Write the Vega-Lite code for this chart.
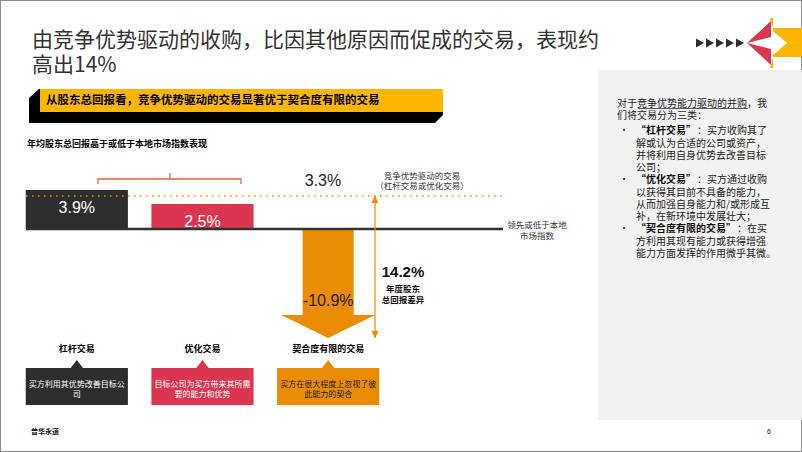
{
  "$schema": "https://vega.github.io/schema/vega-lite/v6.json",
  "width": 802,
  "height": 452,
  "autosize": {"type": "fit", "contains": "padding"},
  "padding": 0,
  "background": "#ffffff",
  "config": {
    "view": {"stroke": "#8c8c8c", "strokeWidth": 2},
    "axis": {"disable": true},
    "legend": {"disable": true}
  },
  "resolve": {"scale": {"x": "independent", "y": "independent", "color": "independent", "shape": "independent"}},
  "datasets": {
    "returns": [
      {"cat": "杠杆交易", "value": 3.9, "label": "3.9%", "desc": "买方利用其优势改善目标公\n司"},
      {"cat": "优化交易", "value": 2.5, "label": "2.5%", "desc": "目标公司为买方带来其所需\n要的能力和优势"},
      {"cat": "契合度有限的交易", "value": -10.9, "label": "-10.9%", "desc": "买方在很大程度上忽视了彼\n此能力的契合"}
    ],
    "benchmark": [
      {"name": "竞争优势驱动的交易\n（杠杆交易或优化交易）", "value": 3.3, "label": "3.3%"}
    ],
    "baseline": [
      {"name": "领先或低于本地\n市场指数", "value": 0}
    ],
    "gap": [
      {"top": 3.3, "bottom": -10.9, "label": "14.2%", "note": "年度股东\n总回报差异"}
    ],
    "gapEnds": [
      {"end": "top", "value": 3.3},
      {"end": "bottom", "value": -10.9}
    ]
  },
  "layer": [
    {
      "data": {"values": [
        {"part": "panel", "x": 598, "x2": 802, "y": 70, "y2": 420},
        {"part": "bannerShadow", "x": 29, "x2": 443, "y": 89, "y2": 123},
        {"part": "bannerFace", "x": 40, "x2": 443, "y": 89, "y2": 112},
        {"part": "logoBlock", "x": 773, "x2": 802, "y": 28, "y2": 57}
      ]},
      "mark": {"type": "rect"},
      "encoding": {
        "x": {"field": "x", "type": "quantitative", "scale": {"domain": [0, 802], "nice": false, "zero": false}},
        "x2": {"field": "x2"},
        "y": {"field": "y", "type": "quantitative", "scale": {"domain": [452, 0], "nice": false, "zero": false}},
        "y2": {"field": "y2"},
        "color": {"field": "part", "type": "nominal", "scale": {"domain": ["panel", "bannerShadow", "bannerFace", "logoBlock"], "range": ["#F2F2F2", "#000000", "#FFB600", "#FFB600"]}}
      }
    },
    {
      "data": {"values": [
        {"part": "chamferTL", "x": 29, "y": 89},
        {"part": "chamferBR", "x": 443, "y": 123},
        {"part": "chev", "x": 700, "y": 43},
        {"part": "chev", "x": 710, "y": 43},
        {"part": "chev", "x": 720, "y": 43},
        {"part": "chev", "x": 730, "y": 43},
        {"part": "chev", "x": 740, "y": 43},
        {"part": "pinkUp", "x": 747, "y": 43},
        {"part": "pinkDown", "x": 747, "y": 43},
        {"part": "notch", "x": 773, "y": 43},
        {"part": "yellowTips", "x": 771, "y": 43}
      ]},
      "mark": {"type": "point", "filled": true, "opacity": 1, "strokeWidth": 0, "size": 4},
      "encoding": {
        "x": {"field": "x", "type": "quantitative", "scale": {"domain": [0, 802], "nice": false, "zero": false}},
        "y": {"field": "y", "type": "quantitative", "scale": {"domain": [452, 0], "nice": false, "zero": false}},
        "shape": {"field": "part", "type": "nominal", "scale": {
          "domain": ["chamferTL", "chamferBR", "chev", "pinkUp", "pinkDown", "notch", "yellowTips"],
          "range": ["M-1,-1 L11,-1 L-1,10 Z", "M1,1 L1,-9 L-9,1 Z", "M-4,-4.5 L4,0 L-4,4.5 Z", "M0,0 L24,-22 L24,-6 Z", "M0,0 L24,22 L24,6 Z", "M0,-12 L14,0 L0,12 Z", "M-1,-25 L2,-25 L2,-15 Z M-1,25 L2,25 L2,15 Z"]}},
        "color": {"field": "part", "type": "nominal", "scale": {
          "domain": ["chamferTL", "chamferBR", "chev", "pinkUp", "pinkDown", "notch", "yellowTips"],
          "range": ["#ffffff", "#ffffff", "#2D2D2D", "#DB3651", "#DB3651", "#ffffff", "#FFB600"]}}
      }
    },
    {
      "data": {"values": [
        {"x": 32, "y": 41, "t": "由竞争优势驱动的收购，比因其他原因而促成的交易，表现约\n高出14%"}
      ]},
      "mark": {"type": "text", "align": "left", "baseline": "middle", "lineBreak": "\n", "lineHeight": 24.5, "font": "Noto Sans CJK SC", "fontSize": 21, "color": "#333333"},
      "encoding": {
        "x": {"field": "x", "type": "quantitative", "scale": {"domain": [0, 802], "nice": false, "zero": false}},
        "y": {"field": "y", "type": "quantitative", "scale": {"domain": [452, 0], "nice": false, "zero": false}},
        "text": {"field": "t"}
      }
    },
    {
      "data": {"values": [
        {"x": 46, "y": 100.5, "t": "从股东总回报看，竞争优势驱动的交易显著优于契合度有限的交易"}
      ]},
      "mark": {"type": "text", "align": "left", "baseline": "middle", "font": "Noto Sans CJK SC", "fontSize": 11.5, "fontWeight": "bold", "color": "#000000"},
      "encoding": {
        "x": {"field": "x", "type": "quantitative", "scale": {"domain": [0, 802], "nice": false, "zero": false}},
        "y": {"field": "y", "type": "quantitative", "scale": {"domain": [452, 0], "nice": false, "zero": false}},
        "text": {"field": "t"}
      }
    },
    {
      "data": {"values": [
        {"x": 27, "y": 144, "t": "年均股东总回报高于或低于本地市场指数表现"}
      ]},
      "mark": {"type": "text", "align": "left", "baseline": "middle", "font": "Noto Sans CJK SC", "fontSize": 9, "fontWeight": "bold", "color": "#000000"},
      "encoding": {
        "x": {"field": "x", "type": "quantitative", "scale": {"domain": [0, 802], "nice": false, "zero": false}},
        "y": {"field": "y", "type": "quantitative", "scale": {"domain": [452, 0], "nice": false, "zero": false}},
        "text": {"field": "t"}
      }
    },
    {
      "data": {"values": [
        {"seg": "a", "o": 1, "x": 98, "y": 184},
        {"seg": "a", "o": 2, "x": 98, "y": 179},
        {"seg": "a", "o": 3, "x": 241, "y": 179},
        {"seg": "a", "o": 4, "x": 241, "y": 184},
        {"seg": "b", "o": 1, "x": 170, "y": 179},
        {"seg": "b", "o": 2, "x": 170, "y": 173}
      ]},
      "mark": {"type": "line", "color": "#E5683C", "strokeWidth": 1.3},
      "encoding": {
        "x": {"field": "x", "type": "quantitative", "scale": {"domain": [0, 802], "nice": false, "zero": false}},
        "y": {"field": "y", "type": "quantitative", "scale": {"domain": [452, 0], "nice": false, "zero": false}},
        "detail": {"field": "seg"},
        "order": {"field": "o"}
      }
    },
    {
      "data": {"name": "returns"},
      "transform": [{"filter": "datum.value > 0"}],
      "mark": {"type": "bar"},
      "encoding": {
        "x": {"field": "cat", "type": "nominal", "scale": {"type": "band", "domain": ["杠杆交易", "优化交易", "契合度有限的交易"], "range": [14, 391], "paddingInner": 0.187, "paddingOuter": 0.0935}},
        "y": {"field": "value", "type": "quantitative", "scale": {"domain": [-22.3, 22.9], "nice": false, "zero": false}},
        "y2": {"datum": 0},
        "color": {"field": "cat", "type": "nominal", "scale": {"domain": ["杠杆交易", "优化交易", "契合度有限的交易"], "range": ["#2D2D2D", "#DB3651", "#EB8C00"]}}
      }
    },
    {
      "data": {"name": "returns"},
      "transform": [{"filter": "datum.value < 0"}],
      "mark": {"type": "bar", "width": {"band": 0.5}},
      "encoding": {
        "x": {"field": "cat", "type": "nominal", "scale": {"type": "band", "domain": ["杠杆交易", "优化交易", "契合度有限的交易"], "range": [14, 391], "paddingInner": 0.187, "paddingOuter": 0.0935}},
        "y": {"datum": -8.8, "type": "quantitative", "scale": {"domain": [-22.3, 22.9], "nice": false, "zero": false}},
        "y2": {"datum": 0},
        "color": {"field": "cat", "type": "nominal", "scale": {"domain": ["杠杆交易", "优化交易", "契合度有限的交易"], "range": ["#2D2D2D", "#DB3651", "#EB8C00"]}}
      }
    },
    {
      "data": {"name": "returns"},
      "transform": [{"filter": "datum.value < 0"}],
      "mark": {"type": "point", "filled": true, "opacity": 1, "strokeWidth": 0, "size": 4, "shape": "M-47,-23 L47,-23 L0,0 Z"},
      "encoding": {
        "x": {"field": "cat", "type": "nominal", "scale": {"type": "band", "domain": ["杠杆交易", "优化交易", "契合度有限的交易"], "range": [14, 391], "paddingInner": 0.187, "paddingOuter": 0.0935}},
        "y": {"field": "value", "type": "quantitative", "scale": {"domain": [-22.3, 22.9], "nice": false, "zero": false}},
        "color": {"field": "cat", "type": "nominal", "scale": {"domain": ["杠杆交易", "优化交易", "契合度有限的交易"], "range": ["#2D2D2D", "#DB3651", "#EB8C00"]}}
      }
    },
    {
      "data": {"name": "baseline"},
      "mark": {"type": "rule", "color": "#333333", "strokeWidth": 2.5},
      "encoding": {
        "x": {"datum": 26, "type": "quantitative", "scale": {"domain": [0, 802], "nice": false, "zero": false}},
        "x2": {"datum": 503},
        "y": {"field": "value", "type": "quantitative", "scale": {"domain": [-22.3, 22.9], "nice": false, "zero": false}}
      }
    },
    {
      "data": {"name": "benchmark"},
      "mark": {"type": "rule", "color": "#EB8C00", "strokeWidth": 1.6, "strokeDash": [1.5, 4.5]},
      "encoding": {
        "x": {"datum": 26, "type": "quantitative", "scale": {"domain": [0, 802], "nice": false, "zero": false}},
        "x2": {"datum": 502},
        "y": {"field": "value", "type": "quantitative", "scale": {"domain": [-22.3, 22.9], "nice": false, "zero": false}}
      }
    },
    {
      "data": {"name": "returns"},
      "transform": [{"filter": "datum.value > 0"}],
      "mark": {"type": "text", "baseline": "top", "dy": 10, "font": "Liberation Sans", "fontSize": 16, "color": "#ffffff"},
      "encoding": {
        "x": {"field": "cat", "type": "nominal", "scale": {"type": "band", "domain": ["杠杆交易", "优化交易", "契合度有限的交易"], "range": [14, 391], "paddingInner": 0.187, "paddingOuter": 0.0935}},
        "y": {"field": "value", "type": "quantitative", "scale": {"domain": [-22.3, 22.9], "nice": false, "zero": false}},
        "text": {"field": "label"}
      }
    },
    {
      "data": {"name": "returns"},
      "transform": [{"filter": "datum.value < 0"}],
      "mark": {"type": "text", "baseline": "middle", "dy": -37, "font": "Liberation Sans", "fontSize": 16, "color": "#222222"},
      "encoding": {
        "x": {"field": "cat", "type": "nominal", "scale": {"type": "band", "domain": ["杠杆交易", "优化交易", "契合度有限的交易"], "range": [14, 391], "paddingInner": 0.187, "paddingOuter": 0.0935}},
        "y": {"field": "value", "type": "quantitative", "scale": {"domain": [-22.3, 22.9], "nice": false, "zero": false}},
        "text": {"field": "label"}
      }
    },
    {
      "data": {"name": "benchmark"},
      "mark": {"type": "text", "baseline": "middle", "dy": -15, "font": "Liberation Sans", "fontSize": 16, "color": "#222222"},
      "encoding": {
        "x": {"datum": 323, "type": "quantitative", "scale": {"domain": [0, 802], "nice": false, "zero": false}},
        "y": {"field": "value", "type": "quantitative", "scale": {"domain": [-22.3, 22.9], "nice": false, "zero": false}},
        "text": {"field": "label"}
      }
    },
    {
      "data": {"name": "benchmark"},
      "mark": {"type": "text", "baseline": "middle", "dy": -20.5, "lineBreak": "\n", "lineHeight": 10.5, "font": "Noto Sans CJK SC", "fontSize": 8.5, "color": "#333333"},
      "encoding": {
        "x": {"datum": 422, "type": "quantitative", "scale": {"domain": [0, 802], "nice": false, "zero": false}},
        "y": {"field": "value", "type": "quantitative", "scale": {"domain": [-22.3, 22.9], "nice": false, "zero": false}},
        "text": {"field": "name"}
      }
    },
    {
      "data": {"name": "baseline"},
      "mark": {"type": "text", "baseline": "middle", "dy": -4, "lineBreak": "\n", "lineHeight": 11, "font": "Noto Sans CJK SC", "fontSize": 8.5, "color": "#333333"},
      "encoding": {
        "x": {"datum": 537, "type": "quantitative", "scale": {"domain": [0, 802], "nice": false, "zero": false}},
        "y": {"field": "value", "type": "quantitative", "scale": {"domain": [-22.3, 22.9], "nice": false, "zero": false}},
        "text": {"field": "name"}
      }
    },
    {
      "data": {"name": "gap"},
      "mark": {"type": "rule", "color": "#EB8C00", "strokeWidth": 1.2},
      "encoding": {
        "x": {"datum": 375, "type": "quantitative", "scale": {"domain": [0, 802], "nice": false, "zero": false}},
        "y": {"field": "top", "type": "quantitative", "scale": {"domain": [-22.3, 22.9], "nice": false, "zero": false}},
        "y2": {"field": "bottom"}
      }
    },
    {
      "data": {"name": "gapEnds"},
      "mark": {"type": "point", "filled": true, "opacity": 1, "strokeWidth": 0, "size": 4},
      "encoding": {
        "x": {"datum": 375, "type": "quantitative", "scale": {"domain": [0, 802], "nice": false, "zero": false}},
        "y": {"field": "value", "type": "quantitative", "scale": {"domain": [-22.3, 22.9], "nice": false, "zero": false}},
        "shape": {"field": "end", "type": "nominal", "scale": {"domain": ["top", "bottom"], "range": ["M-3.5,7 L3.5,7 L0,0 Z", "M-3.5,-7 L3.5,-7 L0,0 Z"]}},
        "color": {"value": "#EB8C00"}
      }
    },
    {
      "data": {"name": "gap"},
      "mark": {"type": "text", "baseline": "middle", "font": "Liberation Sans", "fontSize": 15, "fontWeight": "bold", "color": "#111111"},
      "encoding": {
        "x": {"datum": 403, "type": "quantitative", "scale": {"domain": [0, 802], "nice": false, "zero": false}},
        "y": {"datum": 272, "type": "quantitative", "scale": {"domain": [452, 0], "nice": false, "zero": false}},
        "text": {"field": "label"}
      }
    },
    {
      "data": {"name": "gap"},
      "mark": {"type": "text", "baseline": "middle", "lineBreak": "\n", "lineHeight": 10.5, "font": "Noto Sans CJK SC", "fontSize": 8.5, "fontWeight": "bold", "color": "#111111"},
      "encoding": {
        "x": {"datum": 403, "type": "quantitative", "scale": {"domain": [0, 802], "nice": false, "zero": false}},
        "y": {"datum": 289, "type": "quantitative", "scale": {"domain": [452, 0], "nice": false, "zero": false}},
        "text": {"field": "note"}
      }
    },
    {
      "data": {"name": "returns"},
      "mark": {"type": "text", "baseline": "middle", "font": "Noto Sans CJK SC", "fontSize": 9, "fontWeight": "bold", "color": "#000000"},
      "encoding": {
        "x": {"field": "cat", "type": "nominal", "scale": {"type": "band", "domain": ["杠杆交易", "优化交易", "契合度有限的交易"], "range": [14, 391], "paddingInner": 0.187, "paddingOuter": 0.0935}},
        "y": {"datum": 349, "type": "quantitative", "scale": {"domain": [452, 0], "nice": false, "zero": false}},
        "text": {"field": "cat"}
      }
    },
    {
      "data": {"name": "returns"},
      "mark": {"type": "bar"},
      "encoding": {
        "x": {"field": "cat", "type": "nominal", "scale": {"type": "band", "domain": ["杠杆交易", "优化交易", "契合度有限的交易"], "range": [14, 391], "paddingInner": 0.187, "paddingOuter": 0.0935}},
        "y": {"datum": 368, "type": "quantitative", "scale": {"domain": [452, 0], "nice": false, "zero": false}},
        "y2": {"datum": 405},
        "color": {"field": "cat", "type": "nominal", "scale": {"domain": ["杠杆交易", "优化交易", "契合度有限的交易"], "range": ["#2D2D2D", "#DB3651", "#EB8C00"]}}
      }
    },
    {
      "data": {"name": "returns"},
      "mark": {"type": "point", "filled": true, "opacity": 1, "strokeWidth": 0, "size": 4, "shape": "M-7,1 L7,1 L0,-8 Z"},
      "encoding": {
        "x": {"field": "cat", "type": "nominal", "scale": {"type": "band", "domain": ["杠杆交易", "优化交易", "契合度有限的交易"], "range": [14, 391], "paddingInner": 0.187, "paddingOuter": 0.0935}},
        "y": {"datum": 368, "type": "quantitative", "scale": {"domain": [452, 0], "nice": false, "zero": false}},
        "color": {"field": "cat", "type": "nominal", "scale": {"domain": ["杠杆交易", "优化交易", "契合度有限的交易"], "range": ["#2D2D2D", "#DB3651", "#EB8C00"]}}
      }
    },
    {
      "data": {"name": "returns"},
      "mark": {"type": "text", "baseline": "middle", "lineBreak": "\n", "lineHeight": 10, "font": "Noto Sans CJK SC", "fontSize": 8},
      "encoding": {
        "x": {"field": "cat", "type": "nominal", "scale": {"type": "band", "domain": ["杠杆交易", "优化交易", "契合度有限的交易"], "range": [14, 391], "paddingInner": 0.187, "paddingOuter": 0.0935}},
        "y": {"datum": 384.5, "type": "quantitative", "scale": {"domain": [452, 0], "nice": false, "zero": false}},
        "text": {"field": "desc"},
        "color": {"field": "cat", "type": "nominal", "scale": {"domain": ["杠杆交易", "优化交易", "契合度有限的交易"], "range": ["#ffffff", "#ffffff", "#222222"]}}
      }
    },
    {
      "data": {"values": [
        {"x": 617, "y": 104, "t": "对于竞争优势能力驱动的并购，我\n们将交易分为三类："},
        {"x": 619, "y": 131, "t": "•"},
        {"x": 636, "y": 144, "t": "解或认为合适的公司或资产，\n并将利用自身优势去改善目标\n公司；"},
        {"x": 619, "y": 180, "t": "•"},
        {"x": 636, "y": 193, "t": "以获得其目前不具备的能力，\n从而加强自身能力和/或形成互\n补，在新环境中发展壮大；"},
        {"x": 619, "y": 229, "t": "•"},
        {"x": 636, "y": 242, "t": "方利用其现有能力或获得增强\n能力方面发挥的作用微乎其微。"}
      ]},
      "mark": {"type": "text", "align": "left", "baseline": "middle", "lineBreak": "\n", "lineHeight": 12, "font": "Noto Sans CJK SC", "fontSize": 10, "color": "#222222"},
      "encoding": {
        "x": {"field": "x", "type": "quantitative", "scale": {"domain": [0, 802], "nice": false, "zero": false}},
        "y": {"field": "y", "type": "quantitative", "scale": {"domain": [452, 0], "nice": false, "zero": false}},
        "text": {"field": "t"}
      }
    },
    {
      "data": {"values": [
        {"x": 636, "y": 131, "t": "“杠杆交易”"},
        {"x": 636, "y": 180, "t": "“优化交易”"},
        {"x": 636, "y": 229, "t": "“契合度有限的交易”"}
      ]},
      "mark": {"type": "text", "align": "left", "baseline": "middle", "font": "Noto Sans CJK SC", "fontSize": 10, "fontWeight": "bold", "color": "#111111"},
      "encoding": {
        "x": {"field": "x", "type": "quantitative", "scale": {"domain": [0, 802], "nice": false, "zero": false}},
        "y": {"field": "y", "type": "quantitative", "scale": {"domain": [452, 0], "nice": false, "zero": false}},
        "text": {"field": "t"}
      }
    },
    {
      "data": {"values": [
        {"x": 697, "y": 131, "t": "：买方收购其了"},
        {"x": 697, "y": 180, "t": "：买方通过收购"},
        {"x": 737, "y": 229, "t": "：在买"}
      ]},
      "mark": {"type": "text", "align": "left", "baseline": "middle", "font": "Noto Sans CJK SC", "fontSize": 10, "color": "#222222"},
      "encoding": {
        "x": {"field": "x", "type": "quantitative", "scale": {"domain": [0, 802], "nice": false, "zero": false}},
        "y": {"field": "y", "type": "quantitative", "scale": {"domain": [452, 0], "nice": false, "zero": false}},
        "text": {"field": "t"}
      }
    },
    {
      "data": {"values": [{"x": 638, "x2": 748, "y": 108.5}]},
      "mark": {"type": "rule", "color": "#333333", "strokeWidth": 0.8},
      "encoding": {
        "x": {"field": "x", "type": "quantitative", "scale": {"domain": [0, 802], "nice": false, "zero": false}},
        "x2": {"field": "x2"},
        "y": {"field": "y", "type": "quantitative", "scale": {"domain": [452, 0], "nice": false, "zero": false}}
      }
    },
    {
      "data": {"values": [{"x": 31, "y": 432, "t": "普华永道"}]},
      "mark": {"type": "text", "align": "left", "baseline": "middle", "font": "Noto Sans CJK SC", "fontSize": 7, "fontWeight": "bold", "color": "#111111"},
      "encoding": {
        "x": {"field": "x", "type": "quantitative", "scale": {"domain": [0, 802], "nice": false, "zero": false}},
        "y": {"field": "y", "type": "quantitative", "scale": {"domain": [452, 0], "nice": false, "zero": false}},
        "text": {"field": "t"}
      }
    },
    {
      "data": {"values": [{"x": 769, "y": 432, "t": "6"}]},
      "mark": {"type": "text", "align": "center", "baseline": "middle", "font": "Liberation Sans", "fontSize": 7, "color": "#111111"},
      "encoding": {
        "x": {"field": "x", "type": "quantitative", "scale": {"domain": [0, 802], "nice": false, "zero": false}},
        "y": {"field": "y", "type": "quantitative", "scale": {"domain": [452, 0], "nice": false, "zero": false}},
        "text": {"field": "t"}
      }
    }
  ]
}
